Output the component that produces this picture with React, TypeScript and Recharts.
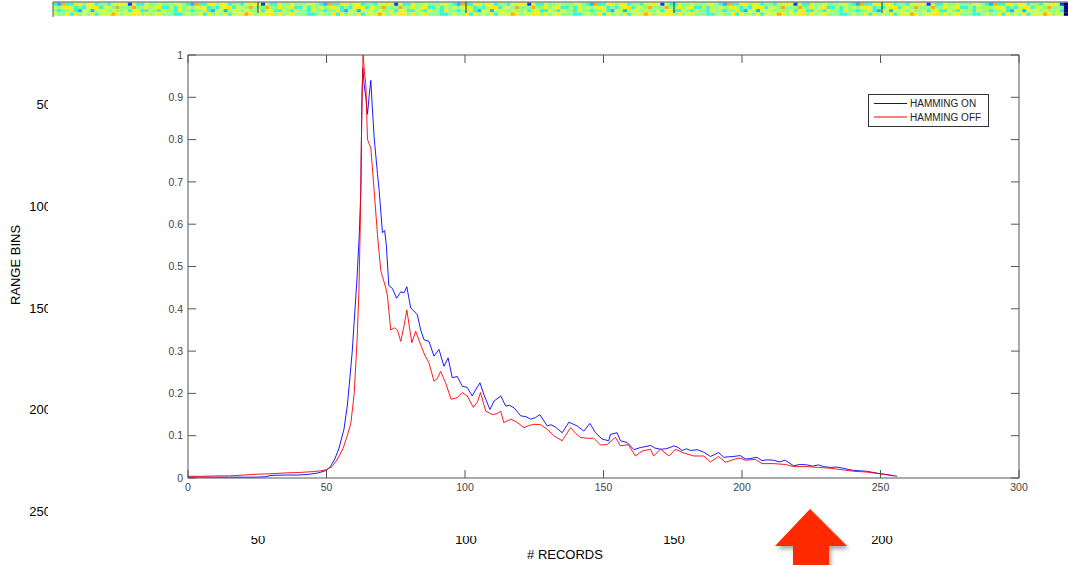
import { LineChart, Line, XAxis, YAxis, Legend } from 'recharts'

// x = record index, y = normalised amplitude
const onX = [0, 5, 10, 15, 20, 25, 28, 30, 35, 40, 44, 47, 50, 51.5, 53, 54.5, 56.3, 57.5, 58.5, 59.3, 60, 61, 61.8, 62.4, 62.8, 63.1, 63.6, 64.2, 64.8, 65.5, 66, 66.5, 67.2, 68.4, 69, 70.2, 71, 71.6, 72.5, 73.8, 75.3, 76.8, 78, 79, 80.4, 81.5, 82.8, 84, 85.2, 87, 88.8, 90.6, 92.4, 93.9, 95.4, 97.2, 99, 100.8, 102.6, 104, 105.4, 107, 109, 110.5, 112.9, 114.7, 116, 117.7, 120.1, 122, 123.7, 125.5, 127, 129.7, 131, 132.7, 135.1, 137.5, 140.5, 142.9, 145.1, 147.1, 149.5, 151.9, 152.5, 154.9, 156.1, 158.5, 161, 163.3, 165, 167, 168.5, 170.6, 172.4, 174, 175.4, 177, 178.4, 180, 181.4, 183.8, 186.2, 188.6, 191.6, 193.4, 195, 197, 199.4, 201.2, 203, 205.4, 207.2, 209, 211.4, 213.5, 215.6, 218.6, 221, 223.4, 225.5, 227.6, 229.5, 231.9, 234, 236.6, 238.5, 240.3, 242.5, 245, 247.5, 249.9, 252.5, 256]
const onY = [0.002, 0.002, 0.002, 0.002, 0.002, 0.002, 0.003, 0.006, 0.007, 0.007, 0.009, 0.012, 0.018, 0.028, 0.045, 0.07, 0.115, 0.17, 0.24, 0.3, 0.37, 0.47, 0.57, 0.68, 0.9, 0.97, 0.93, 0.9, 0.86, 0.91, 0.94, 0.88, 0.805, 0.72, 0.68, 0.58, 0.585, 0.55, 0.455, 0.448, 0.425, 0.44, 0.438, 0.452, 0.402, 0.395, 0.386, 0.35, 0.327, 0.323, 0.288, 0.304, 0.264, 0.284, 0.237, 0.24, 0.217, 0.214, 0.194, 0.21, 0.225, 0.194, 0.162, 0.182, 0.194, 0.17, 0.172, 0.166, 0.147, 0.145, 0.139, 0.143, 0.15, 0.123, 0.126, 0.12, 0.107, 0.132, 0.123, 0.111, 0.129, 0.107, 0.092, 0.088, 0.103, 0.107, 0.088, 0.084, 0.067, 0.072, 0.074, 0.077, 0.071, 0.068, 0.069, 0.072, 0.076, 0.072, 0.065, 0.069, 0.065, 0.067, 0.061, 0.051, 0.06, 0.049, 0.05, 0.051, 0.053, 0.045, 0.046, 0.049, 0.041, 0.043, 0.042, 0.038, 0.042, 0.029, 0.032, 0.031, 0.028, 0.031, 0.027, 0.025, 0.026, 0.023, 0.02, 0.018, 0.017, 0.016, 0.013, 0.01, 0.008, 0.004]

const offX = [0, 5, 10, 15, 20, 25, 30, 35, 40, 45, 48, 50, 52, 54, 56, 57.5, 58.8, 60, 61, 61.7, 62.2, 62.7, 63.2, 63.7, 64.2, 64.8, 66, 67.2, 68.4, 69.6, 70.2, 71.4, 72, 73.2, 74.5, 75.6, 76.8, 78, 79, 80.8, 82.2, 84, 85.5, 87, 88.8, 90, 91.2, 93, 95, 97.2, 99, 100.8, 103, 104.5, 105.6, 107.5, 109.9, 111.5, 112.9, 114, 116.5, 118.5, 121.3, 123, 124.9, 127.3, 129.7, 132, 135.1, 138.1, 140, 141.7, 144, 146.5, 148.9, 151.3, 154.3, 156.1, 159, 161.5, 164, 167, 168.1, 170.6, 173.6, 176, 179, 182.6, 186.2, 188.6, 191.6, 194, 197.6, 199.4, 201.2, 204.8, 207.2, 211.4, 215.6, 218.6, 223.4, 227.6, 231.9, 236.6, 240.3, 245, 249.9, 254.7]
const offY = [0.004, 0.004, 0.005, 0.005, 0.007, 0.009, 0.01, 0.012, 0.013, 0.015, 0.017, 0.02, 0.027, 0.045, 0.07, 0.1, 0.13, 0.2, 0.32, 0.44, 0.6, 0.85, 1.0, 0.96, 0.93, 0.8, 0.78, 0.68, 0.575, 0.49, 0.476, 0.45, 0.43, 0.35, 0.355, 0.35, 0.323, 0.36, 0.397, 0.32, 0.347, 0.315, 0.29, 0.272, 0.229, 0.235, 0.252, 0.225, 0.186, 0.19, 0.202, 0.194, 0.167, 0.18, 0.202, 0.158, 0.15, 0.152, 0.158, 0.131, 0.139, 0.133, 0.119, 0.124, 0.127, 0.126, 0.115, 0.1, 0.088, 0.119, 0.105, 0.096, 0.094, 0.094, 0.078, 0.079, 0.096, 0.076, 0.079, 0.052, 0.064, 0.068, 0.052, 0.068, 0.052, 0.068, 0.059, 0.052, 0.052, 0.038, 0.051, 0.037, 0.045, 0.047, 0.042, 0.044, 0.034, 0.034, 0.032, 0.027, 0.027, 0.025, 0.023, 0.019, 0.016, 0.014, 0.01, 0.005]

const SERIES = [
  { name: 'HAMMING ON', color: '#0000ff' },
  { name: 'HAMMING OFF', color: '#ff0000' },
]

const X_TICKS = [0, 50, 100, 150, 200, 250, 300]
const Y_TICKS = [0, 0.1, 0.2, 0.3, 0.4, 0.5, 0.6, 0.7, 0.8, 0.9, 1]

// labels of the range-bin image lying behind the plot window
const BG_Y_LABELS = [50, 100, 150, 200, 250]
const BG_X_LABELS = [50, 100, 150, 200]
const BG_MARKS = [50, 100, 150, 200]

// top rows of the image (jet colours)
const STRIP_COLORS: Record<string, string> = {
  b: '#0b3cff', l: '#1fb4ff', c: '#36f5d4', g: '#8cff86', y: '#c8ff4a', Y: '#ffee00', o: '#ffae00',
}
const STRIP_ROWS = [
  'cgyYgyclgyYycgoyYgycgcgyYgyccgby',
  'gyYcgygYyycgYyggcyoYgyogcgcyYgcy',
  'ycgglcYygcgyYcygYyygcgYgclgyycgy',
  'gYycgyYygoYgYcgyYgcYygYgycgyYgyg',
]

const onData = onX.map((x, i) => ({ x, y: onY[i] }))
const offData = offX.map((x, i) => ({ x, y: offY[i] }))

const FONT = '"Liberation Sans", Arial, sans-serif'
const AXIS = '#555'

const noLabel = () => <g />

function HammingLegend() {
  return (
    <svg width={121} height={33} style={{ display: 'block' }}>
      <rect x={0.5} y={0.5} width={120} height={32} fill="#fff" stroke="#333" />
      {SERIES.map((s, i) => (
        <g key={s.name}>
          <line x1={6} x2={39} y1={9.5 + i * 13.5} y2={9.5 + i * 13.5} stroke={s.color} strokeWidth={1} />
          <text x={42} y={13 + i * 13.5} fontSize={10} fontFamily={FONT} fill="#222">{s.name}</text>
        </g>
      ))}
    </svg>
  )
}

function Background() {
  const cols = Math.ceil((1068 - 53) / 4.16)
  return (
    <svg width={1068} height={565} style={{ position: 'absolute', left: 0, top: 0 }}>
      {STRIP_ROWS.map((row, r) =>
        Array.from({ length: cols }, (_, c) => (
          <rect
            key={`${r}-${c}`}
            x={53 + c * 4.16}
            y={2.5 + r * 3.3}
            width={4.3}
            height={3.4}
            fill={c === cols - 1 ? '#00008f' : STRIP_COLORS[row[(c * 7 + r * 13) % row.length]]}
          />
        )),
      )}
      <line x1={53} x2={1068} y1={2} y2={2} stroke="#555" />
      <line x1={53} x2={53} y1={2} y2={17} stroke="#555" />
      {BG_MARKS.map((v) => (
        <line key={v} x1={50 + v * 4.16} x2={50 + v * 4.16} y1={2} y2={13} stroke="#333" />
      ))}
      <g fontFamily={FONT} fontSize={13} fill="#000">
        {BG_Y_LABELS.map((v) => (
          <text key={v} x={51} y={3 + v * 2.034} textAnchor="end" dominantBaseline="central">{v}</text>
        ))}
        {BG_X_LABELS.map((v) => (
          <text key={v} x={50 + v * 4.16} y={543.5} textAnchor="middle">{v}</text>
        ))}
        <text x={565} y={559} textAnchor="middle">{'# RECORDS'}</text>
        <text x={0} y={0} transform="translate(20,265) rotate(-90)" textAnchor="middle">RANGE BINS</text>
      </g>
    </svg>
  )
}

export default function App() {
  return (
    <div style={{ position: 'absolute', left: 0, top: 0, width: 1068, height: 565, background: '#fff', overflow: 'hidden' }}>
      <Background />
      {/* foreground plot window hides part of the image behind */}
      <div style={{ position: 'absolute', left: 48, top: 17, width: 1020, height: 519, background: '#fff' }} />
      <div style={{ position: 'absolute', left: 0, top: 0 }}>
        <LineChart width={1068} height={565} margin={{ top: 54, right: 48, bottom: 0, left: 0 }}>
          <XAxis
            dataKey="x"
            type="number"
            domain={[0, 300]}
            ticks={X_TICKS}
            height={87}
            tickSize={-8}
            tickMargin={14}
            stroke={AXIS}
            tick={{ fontSize: 10.5, fill: '#444', fontFamily: FONT }}
          />
          <XAxis
            xAxisId="top"
            orientation="top"
            dataKey="x"
            type="number"
            domain={[0, 300]}
            ticks={X_TICKS}
            height={1}
            tickSize={-8}
            stroke={AXIS}
            tick={noLabel}
          />
          <YAxis
            type="number"
            domain={[0, 1]}
            ticks={Y_TICKS}
            width={188}
            tickSize={-8}
            tickMargin={13}
            stroke={AXIS}
            tick={{ fontSize: 10.5, fill: '#444', fontFamily: FONT }}
          />
          <YAxis
            yAxisId="right"
            orientation="right"
            type="number"
            domain={[0, 1]}
            ticks={Y_TICKS}
            width={1}
            tickSize={-8}
            stroke={AXIS}
            tick={noLabel}
          />
          <Legend
            layout="vertical"
            align="center"
            verticalAlign="middle"
            content={<HammingLegend />}
            wrapperStyle={{ left: 868, top: 94, width: 121, height: 33 }}
          />
          <Line
            data={onData}
            dataKey="y"
            name={SERIES[0].name}
            type="linear"
            stroke={SERIES[0].color}
            strokeWidth={0.9}
            dot={false}
            isAnimationActive={false}
          />
          <Line
            data={offData}
            dataKey="y"
            name={SERIES[1].name}
            type="linear"
            stroke={SERIES[1].color}
            strokeWidth={0.9}
            dot={false}
            isAnimationActive={false}
          />
          {/* hidden series so the top / right frame axes get a scale */}
          <Line
            data={onData}
            dataKey="y"
            xAxisId="top"
            yAxisId="right"
            stroke="none"
            dot={false}
            legendType="none"
            isAnimationActive={false}
          />
        </LineChart>
      </div>
      <svg width={1068} height={565} style={{ position: 'absolute', left: 0, top: 0, filter: 'drop-shadow(2px 3px 2px rgba(0,0,0,0.35))' }}>
        <polygon points="810,509 775,546 793,546 793,566 829,566 829,546 847,546" fill="#ff2a00" />
      </svg>
    </div>
  )
}
